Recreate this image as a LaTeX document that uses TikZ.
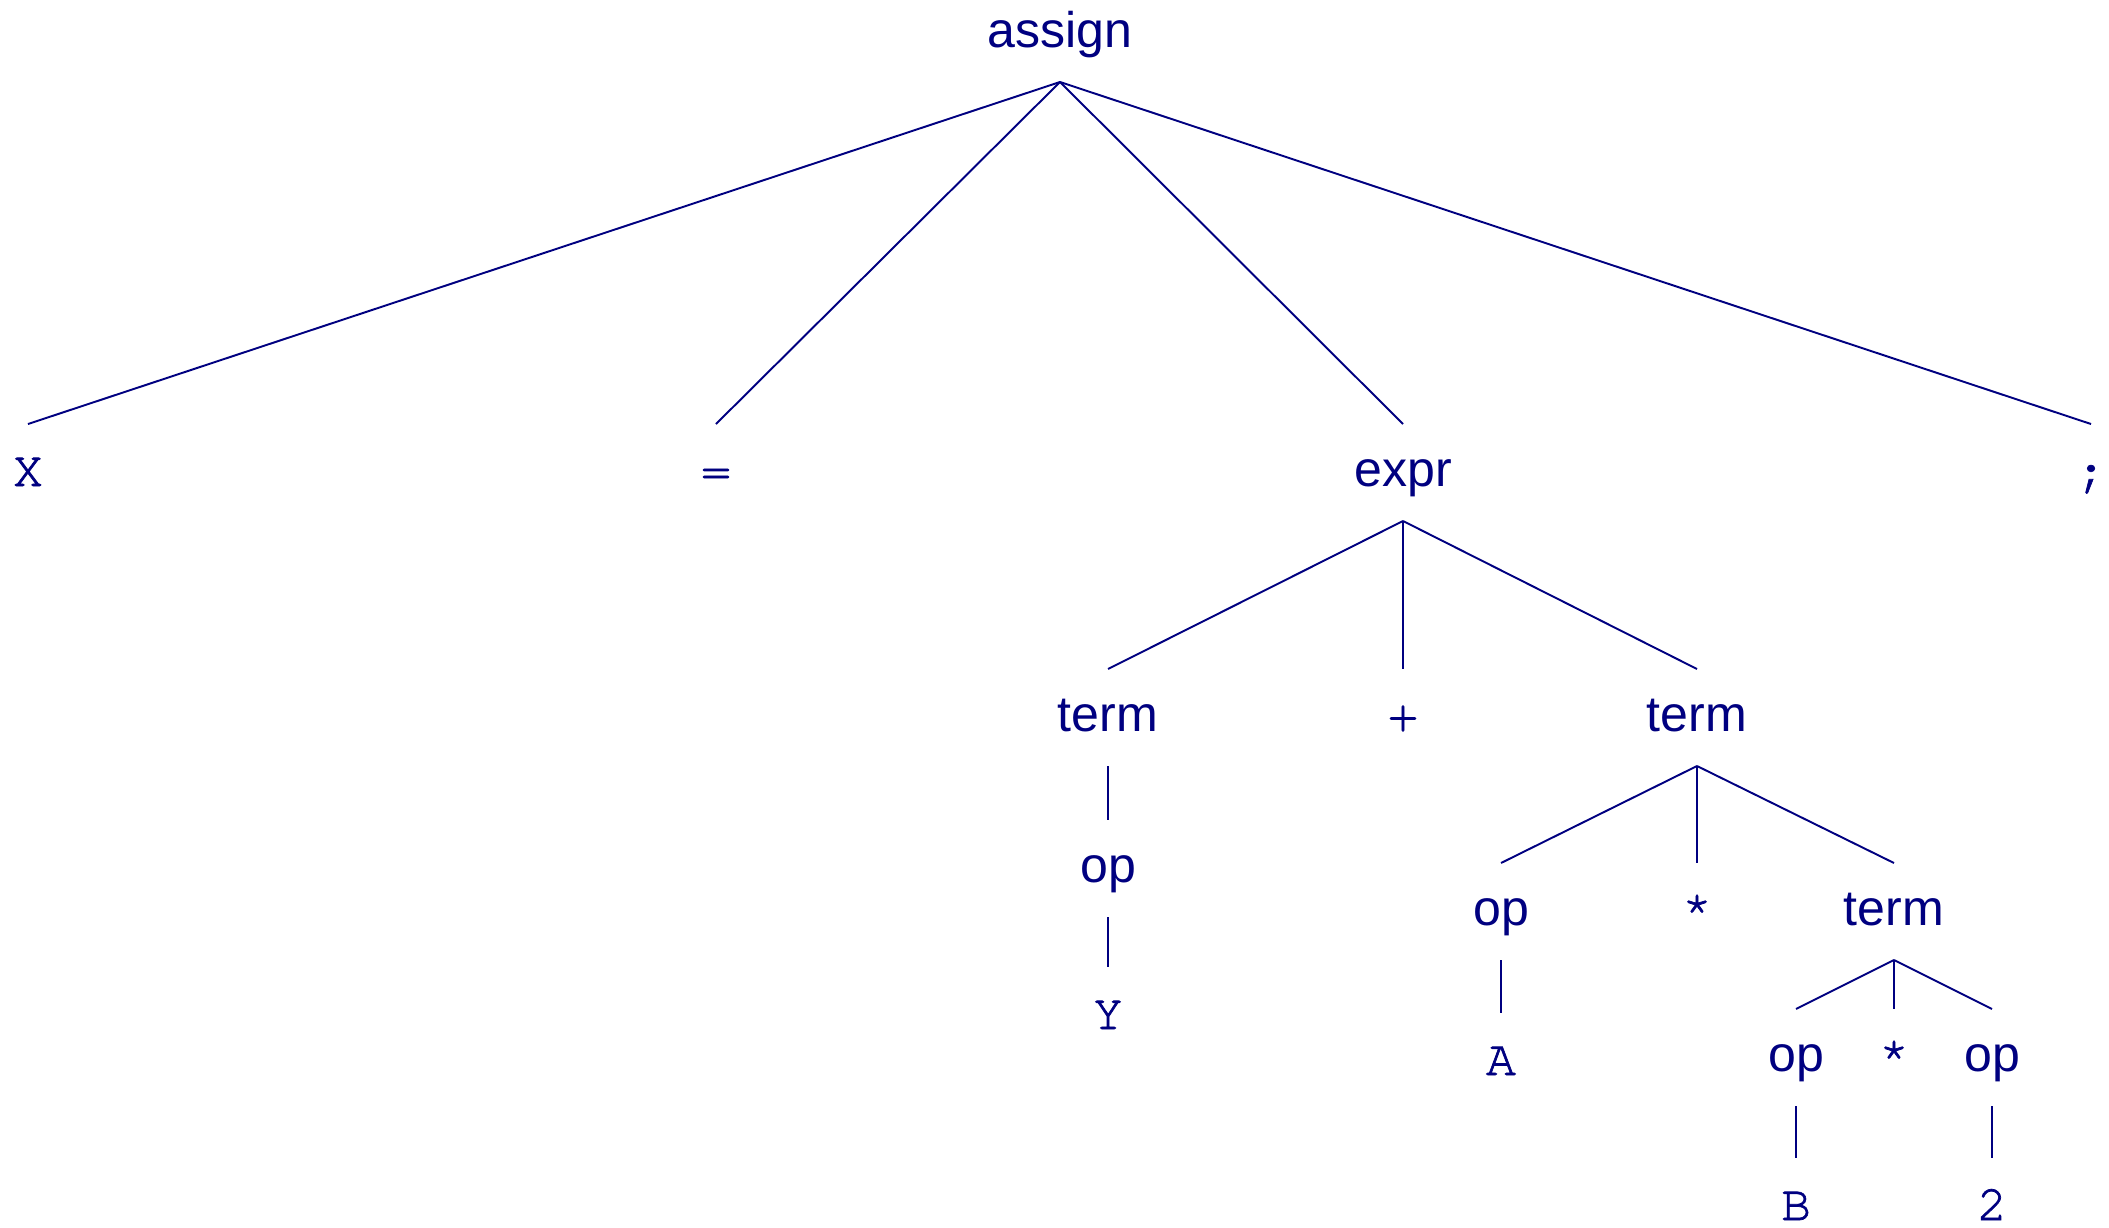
\documentclass[tikz,border=0pt]{standalone}
\usepackage{fontspec}
\newfontfamily\treesans{Liberation Sans}
\newfontfamily\treemono[FakeBold=1.4]{texgyrecursor-regular.otf}
\usepackage{xcolor}
\usepackage{tikz}
\usetikzlibrary{positioning,calc}

\definecolor{treeblue}{RGB}{0,0,128}

\begin{document}
\begin{tikzpicture}[x=0.02cm, y=-0.02cm,
    every node/.style={anchor=base, inner sep=0pt, outer sep=0pt,
        text height=1.24cm, text depth=0.70cm, text=treeblue},
    nonterm/.style={font=\treesans\fontsize{28.5}{34}\selectfont},
    leaf/.style={font=\treemono\fontsize{28.5}{34}\selectfont},
    link/.style={draw=treeblue, line width=1.1pt}]
    \useasboundingbox (0,0) rectangle (2109,1227);

    % Root
    \node[nonterm] (assign) at (1060,47) {assign};

    % Level 1
    \node[leaf]    (X)    at (28,486)   {X};
    \node[leaf]    (eq)   at (716,486)  {=};
    \node[nonterm] (expr) at (1403,486) {expr};
    \node[leaf]    (semi) at (2091,486) {;};
    \draw[link] (assign.south) -- (X.north);
    \draw[link] (assign.south) -- (eq.north);
    \draw[link] (assign.south) -- (expr.north);
    \draw[link] (assign.south) -- (semi.north);

    % Level 2
    \node[nonterm] (termL) at (1108,731) {term};
    \node[leaf]    (plus)  at (1403,731) {+};
    \node[nonterm] (termR) at (1697,731) {term};
    \draw[link] (expr.south) -- (termL.north);
    \draw[link] (expr.south) -- (plus.north);
    \draw[link] (expr.south) -- (termR.north);

    % Left term
    \node[nonterm] (opY) at (1108,882)  {op};
    \node[leaf]    (Y)   at (1108,1029) {Y};
    \draw[link] (termL.south) -- (opY.north);
    \draw[link] (opY.south) -- (Y.north);

    % Right term
    \node[nonterm] (opA)    at (1501,925) {op};
    \node[leaf]    (starA)  at (1697,925) {*};
    \node[nonterm] (termBB) at (1894,925) {term};
    \draw[link] (termR.south) -- (opA.north);
    \draw[link] (termR.south) -- (starA.north);
    \draw[link] (termR.south) -- (termBB.north);

    \node[leaf] (A) at (1501,1075) {A};
    \draw[link] (opA.south) -- (A.north);

    % Inner term
    \node[nonterm] (opB)   at (1796,1071) {op};
    \node[leaf]    (starB) at (1894,1071) {*};
    \node[nonterm] (opTwo) at (1992,1071) {op};
    \draw[link] (termBB.south) -- (opB.north);
    \draw[link] (termBB.south) -- (starB.north);
    \draw[link] (termBB.south) -- (opTwo.north);

    \node[leaf] (B)   at (1796,1220) {B};
    \node[leaf] (two) at (1992,1220) {2};
    \draw[link] (opB.south) -- (B.north);
    \draw[link] (opTwo.south) -- (two.north);
\end{tikzpicture}
\end{document}
